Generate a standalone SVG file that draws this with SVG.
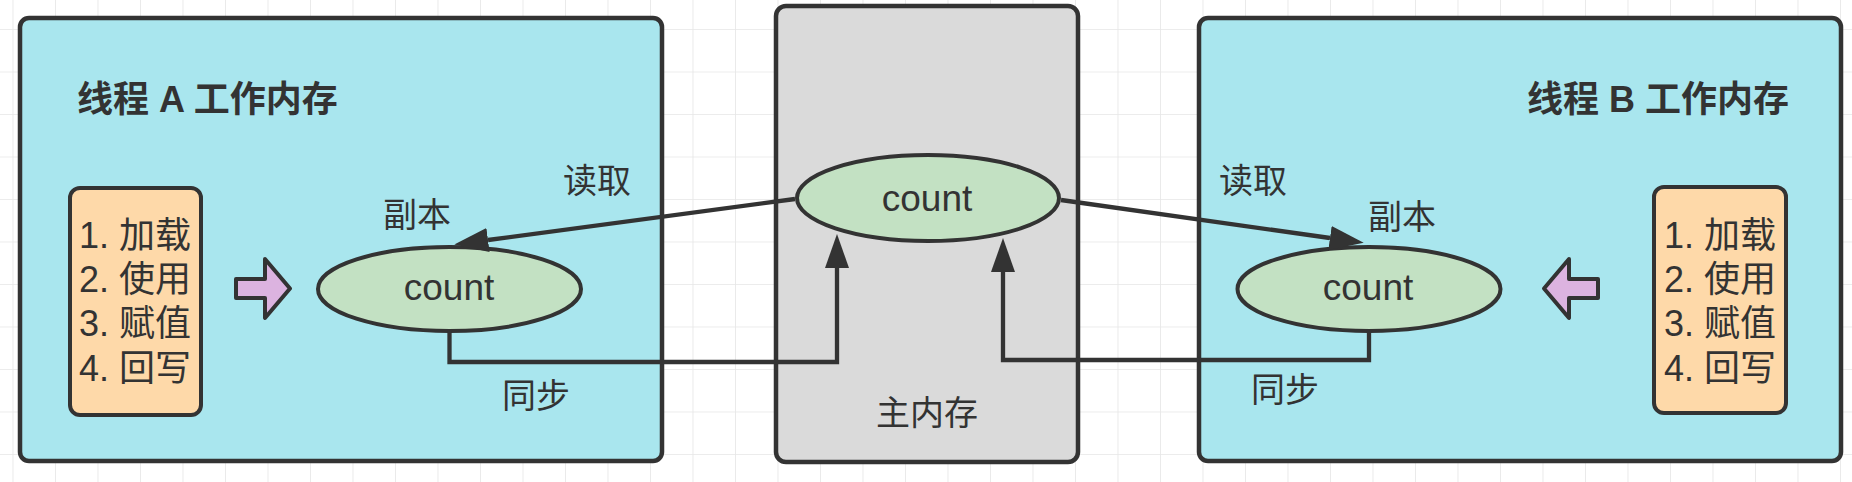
<svg xmlns="http://www.w3.org/2000/svg" width="1852" height="482" viewBox="0 0 1852 482">
  <defs>
    <pattern id="grid" x="12.5" y="29" width="42.5" height="42.5" patternUnits="userSpaceOnUse">
      <path d="M0,0 H42.5 M0,0 V42.5" fill="none" stroke="#e6e6e6" stroke-width="1.6"/>
    </pattern>
    <marker id="head" viewBox="0 0 34 24" refX="0" refY="12" markerWidth="34" markerHeight="24" markerUnits="userSpaceOnUse" orient="auto">
      <path d="M0,0 L34,12 L0,24 z" fill="#333333"/>
    </marker>
    <style>
      .box { stroke: #333333; stroke-width: 4.5; }
      .thread { fill: #a9e6ee; }
      .main { fill: #dadada; }
      .list { fill: #fed9a9; stroke: #333333; stroke-width: 4; }
      .ell { fill: #c3e1c3; stroke: #333333; stroke-width: 4; }
      .pink { fill: #dcb3e0; stroke: #333333; stroke-width: 4; stroke-linejoin: round; }
      .conn { fill: none; stroke: #333333; stroke-width: 4.3; stroke-linejoin: miter; }
      text { font-family: "Liberation Sans", "Noto Sans CJK SC", sans-serif; fill: #333333; }
      .title { font-size: 36px; font-weight: bold; }
      .lbl { font-size: 34px; text-anchor: middle; }
      .item { font-size: 36px; text-anchor: middle; }
      .var { font-size: 37px; text-anchor: middle; }
    </style>
  </defs>
  <rect x="0" y="0" width="1852" height="482" fill="#ffffff"/>
  <rect x="0" y="0" width="1852" height="482" fill="url(#grid)"/>

  <g id="threadA">
    <rect class="box thread" x="20" y="18" width="642" height="443" rx="9"/>
    <text class="title" x="77" y="112">线程 A 工作内存</text>
  </g>
  <g id="mainMemory">
    <rect class="box main" x="776" y="6" width="302" height="456" rx="10"/>
    <text class="lbl" x="927" y="425">主内存</text>
  </g>
  <g id="threadB">
    <rect class="box thread" x="1199" y="18" width="642" height="443" rx="9"/>
    <text class="title" x="1789" y="112" text-anchor="end">线程 B 工作内存</text>
  </g>

  <g id="opsA">
    <rect class="list" x="70" y="188" width="131" height="227" rx="10"/>
    <text class="item" x="135" y="248">1. 加载</text>
    <text class="item" x="135" y="292">2. 使用</text>
    <text class="item" x="135" y="336">3. 赋值</text>
    <text class="item" x="135" y="381">4. 回写</text>
  </g>
  <g id="opsB">
    <rect class="list" x="1654" y="187" width="132" height="226" rx="10"/>
    <text class="item" x="1720" y="248">1. 加载</text>
    <text class="item" x="1720" y="292">2. 使用</text>
    <text class="item" x="1720" y="336">3. 赋值</text>
    <text class="item" x="1720" y="381">4. 回写</text>
  </g>

  <g id="arrowA">
    <polygon class="pink" points="236,279 265,279 265,259 290,288.5 265,318 265,298 236,298"/>
  </g>
  <g id="arrowB">
    <polygon class="pink" points="1598,279 1569,279 1569,259 1544,288.5 1569,318 1569,298 1598,298"/>
  </g>

  <g id="countA">
    <ellipse class="ell" cx="449.5" cy="289" rx="131.5" ry="42"/>
    <text class="var" x="449" y="300">count</text>
  </g>
  <g id="countMain">
    <ellipse class="ell" cx="928" cy="198" rx="131" ry="43"/>
    <text class="var" x="927" y="211">count</text>
  </g>
  <g id="countB">
    <ellipse class="ell" cx="1369" cy="289" rx="131.5" ry="42"/>
    <text class="var" x="1368" y="300">count</text>
  </g>

  <g id="connectors">
    <path class="conn" d="M795,199 L488,240" marker-end="url(#head)"/>
    <path class="conn" d="M1061,200 L1330,238" marker-end="url(#head)"/>
    <path class="conn" d="M449.5,331 L449.5,362 L837,362 L837,268" marker-end="url(#head)"/>
    <path class="conn" d="M1369,331 L1369,360 L1003,360 L1003,272" marker-end="url(#head)"/>
  </g>

  <g id="labels">
    <text class="lbl" x="597" y="193">读取</text>
    <text class="lbl" x="417" y="227">副本</text>
    <text class="lbl" x="536" y="408">同步</text>
    <text class="lbl" x="1253" y="193">读取</text>
    <text class="lbl" x="1402" y="229">副本</text>
    <text class="lbl" x="1285" y="402">同步</text>
  </g>
</svg>
